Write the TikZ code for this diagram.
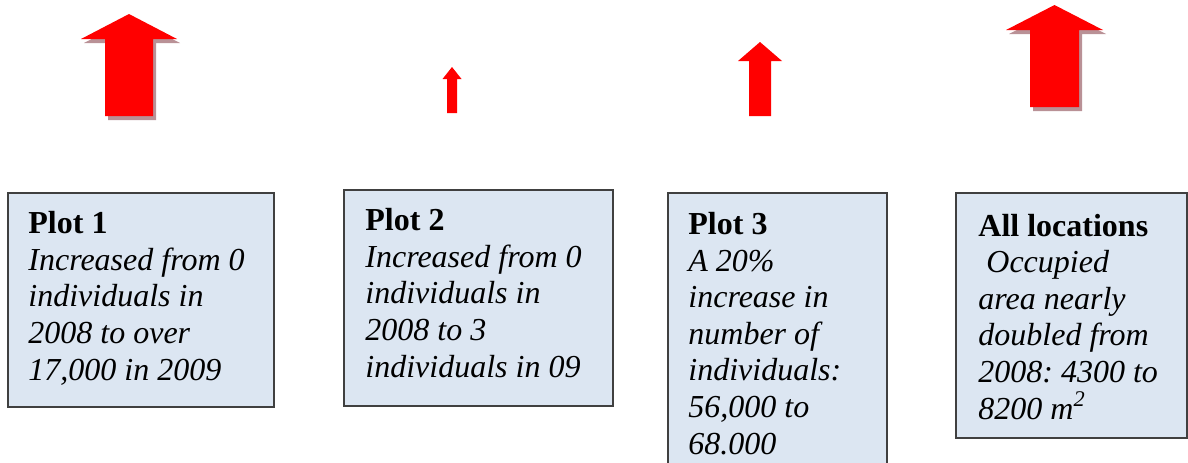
\documentclass[tikz,border=0pt]{standalone}
\usepackage{fontspec}
\setmainfont{Liberation Serif}
\usepackage{xcolor}
\usepackage{tikz}
\definecolor{boxblue}{RGB}{220,230,242}
\definecolor{shadered}{RGB}{185,145,150}
\tikzset{
  infobox/.style={draw=black!75,fill=boxblue,line width=0.6pt},
  infotext/.style={anchor=base west,align=left,inner sep=0pt,font=\fontsize{16}{18.3}\selectfont\frenchspacing},
  uparr/.style={fill=red,draw=none},
  uparrshade/.style={fill=shadered,draw=none}
}
% up arrow: centre x, tip y, head base y, bottom y, half head width, half shaft width
\newcommand{\redarrow}[7][uparr]{%
  \fill[#1] (#2,#3) -- (#2+#6,#4) -- (#2+#7,#4) -- (#2+#7,#5) -- (#2-#7,#5)
    -- (#2-#7,#4) -- (#2-#6,#4) -- cycle;}

\begin{document}
\begin{tikzpicture}[x=0.5pt,y=-0.5pt]
\useasboundingbox (0,0) rectangle (1188,462);
% arrows
\redarrow[uparrshade]{132}{18}{43}{120}{48}{24}
\redarrow{129}{14}{39}{116}{48}{24}
\redarrow{452}{67}{79}{113}{9.5}{5}
\redarrow{760}{42}{61}{116}{22}{11}
\redarrow[uparrshade]{1057.5}{9}{34}{111}{48.5}{24.5}
\redarrow{1054.5}{5}{30}{107}{48.5}{24.5}
% boxes
\draw[infobox] (8,193) rectangle (274,407);
\draw[infobox] (344,190) rectangle (613,406);
\draw[infobox] (668,193) rectangle (887,475);
\draw[infobox] (956,193) rectangle (1187,438);
% texts (anchored at the baseline of the last line)
\node[infotext] (plot1) at (28,380) {\textbf{Plot 1}\\\textit{Increased from 0}\\\textit{individuals in}\\\textit{2008 to over}\\\textit{17,000 in 2009}};
\node[infotext] (plot2) at (365,377) {\textbf{Plot 2}\\\textit{Increased from 0}\\\textit{individuals in}\\\textit{2008 to 3}\\\textit{individuals in 09}};
\node[infotext] (plot3) at (688,454) {\textbf{Plot 3}\\\textit{A 20\%}\\\textit{increase in}\\\textit{number of}\\\textit{individuals:}\\\textit{56,000 to}\\\textit{68.000}};
\node[infotext] (alllocs) at (978,419) {\textbf{All locations}\\\textit{\ Occupied}\\\textit{area nearly}\\\textit{doubled from}\\\textit{2008: 4300 to}\\\textit{8200 m\textsuperscript{2}}};
\end{tikzpicture}
\end{document}
